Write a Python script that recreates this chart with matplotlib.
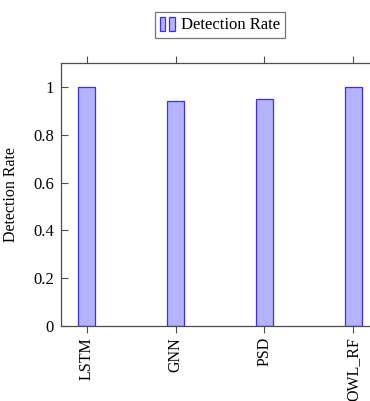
import matplotlib.pyplot as plt
from matplotlib.legend_handler import HandlerBase
from matplotlib.patches import Rectangle

models = ['LSTM', 'GNN', 'PSD', 'OWL_RF']
detection_rate = [1.0, 0.94, 0.95, 1.0]

plt.rcParams['font.family'] = ['Liberation Serif', 'DejaVu Serif']

fill_color = '#b3b3ff'
edge_color = '#3f2bff'
axis_color = '#4d4d4d'


class TwoBarHandler(HandlerBase):
    # pgfplots-style ybar legend marker: two small bars
    def create_artists(self, legend, orig_handle, xdescent, ydescent,
                       width, height, fontsize, trans):
        bw = width * 0.32
        bars = []
        for i in range(2):
            r = Rectangle((-xdescent + i * width * 0.55, -ydescent - height * 0.1),
                          bw, height * 1.2,
                          facecolor=fill_color, edgecolor=edge_color, linewidth=0.9,
                          transform=trans)
            bars.append(r)
        return bars


fig = plt.figure(figsize=(3.7, 4.01), dpi=100)
ax = fig.add_axes([61 / 370, 1 - 326 / 401, 318 / 370, 263 / 401])

x = range(len(models))
bars = ax.bar(x, detection_rate, width=0.19, color=fill_color,
              edgecolor=edge_color, linewidth=0.9, label='Detection Rate')

ax.set_xlim(-0.29, 3.29)
ax.set_ylim(0, 1.1)
ax.set_xticks(list(x))
ax.set_xticklabels(models, rotation=90, fontsize=11.5)
ax.set_yticks([0, 0.2, 0.4, 0.6, 0.8, 1])
ax.set_yticklabels(['0', '0.2', '0.4', '0.6', '0.8', '1'], fontsize=12)
ax.set_ylabel('Detection Rate', fontsize=11.5)
ax.yaxis.set_label_coords(-0.132, 0.5)

ax.tick_params(axis='x', direction='out', length=5, top=True, color=axis_color, pad=3)
ax.tick_params(axis='y', direction='in', length=5, color=axis_color, pad=5)
for s in ax.spines.values():
    s.set_color(axis_color)
    s.set_linewidth(0.9)

leg = ax.legend(handles=[bars], handler_map={type(bars): TwoBarHandler()},
                loc='lower center', bbox_to_anchor=(0.5, 1.062), fontsize=12,
                frameon=True, fancybox=False, edgecolor='#555555',
                handlelength=1.0, handletextpad=0.25, borderpad=0.3)
leg.get_frame().set_linewidth(0.9)

fig.savefig('out.png', dpi=100)
